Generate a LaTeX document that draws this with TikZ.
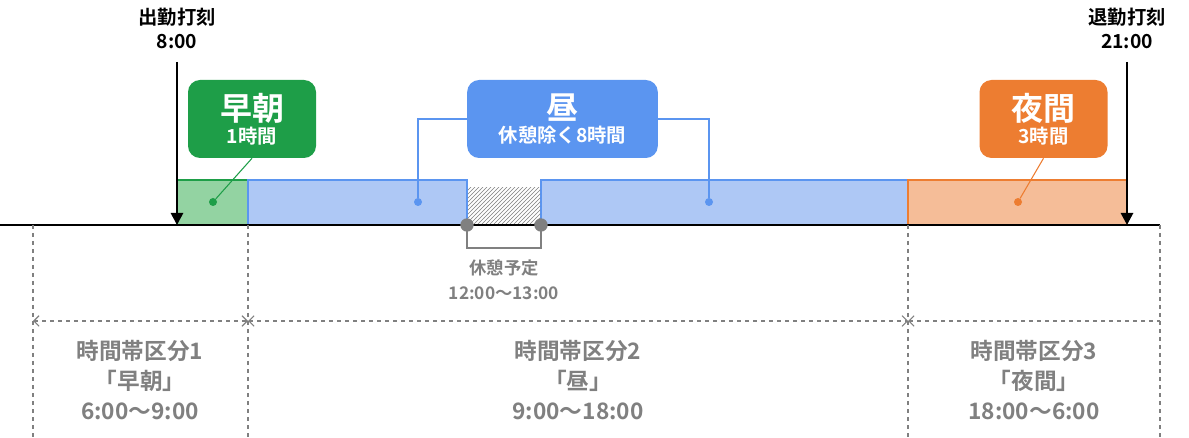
\documentclass[tikz,border=0pt]{standalone}
\usepackage{fontspec}
\setmainfont{Noto Sans CJK JP}[BoldFont={* Bold}]
\usetikzlibrary{patterns,arrows.meta}
\definecolor{gD}{HTML}{1E9E48}\definecolor{gL}{HTML}{93D3A2}
\definecolor{bD}{HTML}{5B95F0}\definecolor{bL}{HTML}{AEC8F5}
\definecolor{oD}{HTML}{ED7D31}\definecolor{oL}{HTML}{F5BD98}
\definecolor{gy}{HTML}{808080}
\begin{document}
\begin{tikzpicture}[x=0.75pt,y=-0.75pt,
  lbl/.style={rounded corners=9pt,minimum width=96pt,minimum height=58.5pt,text=white,align=center,font=\bfseries,inner sep=0pt},
  gtxt/.style={text=gy,font=\bfseries\fontsize{17}{22.5}\selectfont,align=center},
  dot/.style={circle,fill,inner sep=0pt,minimum size=6pt}]
\useasboundingbox (0,0) rectangle (1189,438);
% bars
\draw[gD,thick,fill=gL] (177,180) rectangle (248,225);
\draw[bD,thick,fill=bL] (248,180) rectangle (467,225);
\draw[bD,thick,fill=bL] (541,180) rectangle (908,225);
\draw[oD,thick,fill=oL] (908,180) rectangle (1127,225);
\fill[white] (468,181) rectangle (540,224);
\fill[pattern=north east lines,pattern color=gy] (468,188) rectangle (540,225);
\draw[thick] (0,225) -- (1160,225);
% dashed
\foreach \x in {33,248,908,1160} \draw[gy,dashed,thick] (\x,225) -- (\x,438);
\coordinate (d0) at (33,321);\coordinate (d1) at (248,321);\coordinate (d2) at (908,321);\coordinate (d3) at (1160,321);
\draw[gy,dashed,thick,{Straight Barb[length=4pt]}-{Straight Barb[length=4pt]}] (d0) -- (d1);
\draw[gy,dashed,thick,{Straight Barb[length=4pt]}-{Straight Barb[length=4pt]}] (d1) -- (d2);
\draw[gy,dashed,thick,{Straight Barb[length=4pt]}-] (d2) -- (d3);
% punch arrows
\node[font=\bfseries\fontsize{14.5}{18}\selectfont,align=center] (in) at (177,28) {出勤打刻\\8:00};
\node[font=\bfseries\fontsize{14.5}{18}\selectfont,align=center] (out) at (1127,28) {退勤打刻\\21:00};
\coordinate (ia) at (177,62);\coordinate (ib) at (177,225);
\coordinate (oa) at (1127,62);\coordinate (ob) at (1127,225);
\draw[line width=2pt,-{Triangle[length=9pt,width=9pt]}] (ia) -- (ib);
\draw[line width=2pt,-{Triangle[length=9pt,width=9pt]}] (oa) -- (ob);
% label boxes
\node[lbl,fill=gD] (g) at (252,119) {{\fontsize{24}{28}\selectfont 早朝}\\[2pt]{\fontsize{14.5}{17}\selectfont 1時間}};
\node[lbl,fill=bD,minimum width=143pt] (b) at (562.5,119) {{\fontsize{24}{28}\selectfont 昼}\\[2pt]{\fontsize{14.5}{17}\selectfont 休憩除く8時間}};
\node[lbl,fill=oD] (o) at (1043.5,119) {{\fontsize{24}{28}\selectfont 夜間}\\[2pt]{\fontsize{14.5}{17}\selectfont 3時間}};
\node[dot,gD] (gd) at (213,202) {};
\node[dot,bD] (bd1) at (418,202) {};
\node[dot,bD] (bd2) at (709,202) {};
\node[dot,oD] (od) at (1018,202) {};
\draw[gD,thick] (gd) -- (g.south);
\draw[oD,thick] (od) -- (o.south);
\draw[bD,thick] (bd1) |- (b.west);
\draw[bD,thick] (bd2) |- (b.east);
% break bracket
\node[dot,gy,minimum size=10pt] (k1) at (467,225) {};
\node[dot,gy,minimum size=10pt] (k2) at (541,225) {};
\draw[gy,line width=2pt] (k1.center) -- (467,248) -- (541,248) -- (k2.center);
\node[text=gy,font=\bfseries\fontsize{13}{18.5}\selectfont,align=center] (br) at (504,280) {休憩予定\\12:00〜13:00};
% zone texts
\node[gtxt] (z1) at (140,380) {時間帯区分1\\「早朝」\\6:00〜9:00};
\node[gtxt] (z2) at (578,380) {時間帯区分2\\「昼」\\9:00〜18:00};
\node[gtxt] (z3) at (1034,380) {時間帯区分3\\「夜間」\\18:00〜6:00};
\end{tikzpicture}
\end{document}
